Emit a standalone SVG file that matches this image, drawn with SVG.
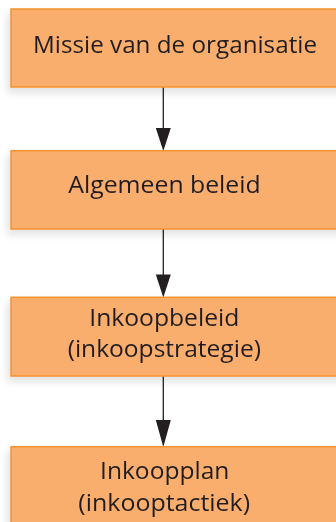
<svg xmlns="http://www.w3.org/2000/svg" width="336" height="522" viewBox="0 0 336 522">
  <defs>
    <filter id="sh" x="-20%" y="-30%" width="140%" height="170%">
      <feGaussianBlur in="SourceAlpha" stdDeviation="4"/>
      <feOffset dx="-3" dy="5" result="b"/>
      <feComponentTransfer><feFuncA type="linear" slope="0.12"/></feComponentTransfer>
      <feMerge><feMergeNode/><feMergeNode in="SourceGraphic"/></feMerge>
    </filter>
    <marker id="ah" markerUnits="userSpaceOnUse" markerWidth="16" markerHeight="24" refX="7.5" refY="22" orient="auto-start-reverse" viewBox="0 0 15 23">
      <path d="M0,0 L15,0 L7.5,23 Z" fill="#231F20"/>
    </marker>
    <style>
      .box{fill:#F9AE6E;stroke:#F4922F;stroke-width:1.5}
      .t{font-family:"Open Sans","Noto Sans",sans-serif;font-size:23px;fill:#231F20;text-anchor:middle}
      .c{stroke:#231F20;stroke-width:1.3;fill:none}
    </style>
  </defs>
  <rect width="336" height="522" fill="#FFFFFF"/>
  <g id="connectors">
    <line class="c" x1="163.3" y1="87" x2="163.3" y2="130"/>
    <path d="M155.8,128 L170.8,128 L163.3,151 Z" fill="#231F20"/>
    <line class="c" x1="163.3" y1="229" x2="163.3" y2="276"/>
    <path d="M155.8,274.5 L170.8,274.5 L163.3,297.5 Z" fill="#231F20"/>
    <line class="c" x1="163.3" y1="376" x2="163.3" y2="422"/>
    <path d="M155.8,420 L170.8,420 L163.3,447 Z" fill="#231F20"/>
  </g>
  <g id="node1" filter="url(#sh)">
    <rect class="box" x="11" y="9" width="340" height="78"/>
    <text class="t" x="175" y="52.7" textLength="284" lengthAdjust="spacingAndGlyphs">Missie van de organisatie</text>
  </g>
  <g id="node2" filter="url(#sh)">
    <rect class="box" x="11" y="150.7" width="340" height="78.3"/>
    <text class="t" x="164.5" y="193" textLength="192.4" lengthAdjust="spacingAndGlyphs">Algemeen beleid</text>
  </g>
  <g id="node3" filter="url(#sh)">
    <rect class="box" x="11" y="297.3" width="340" height="78.7"/>
    <text class="t" x="164.3" y="325.5" textLength="150" lengthAdjust="spacingAndGlyphs">Inkoopbeleid</text>
    <text class="t" x="164.3" y="356.5" textLength="193.3" lengthAdjust="spacingAndGlyphs">(inkoopstrategie)</text>
  </g>
  <g id="node4" filter="url(#sh)">
    <rect class="box" x="11" y="446.7" width="340" height="90"/>
    <text class="t" x="164.7" y="479" textLength="129.3" lengthAdjust="spacingAndGlyphs">Inkoopplan</text>
    <text class="t" x="164.2" y="510.5" textLength="171.7" lengthAdjust="spacingAndGlyphs">(inkooptactiek)</text>
  </g>
</svg>
